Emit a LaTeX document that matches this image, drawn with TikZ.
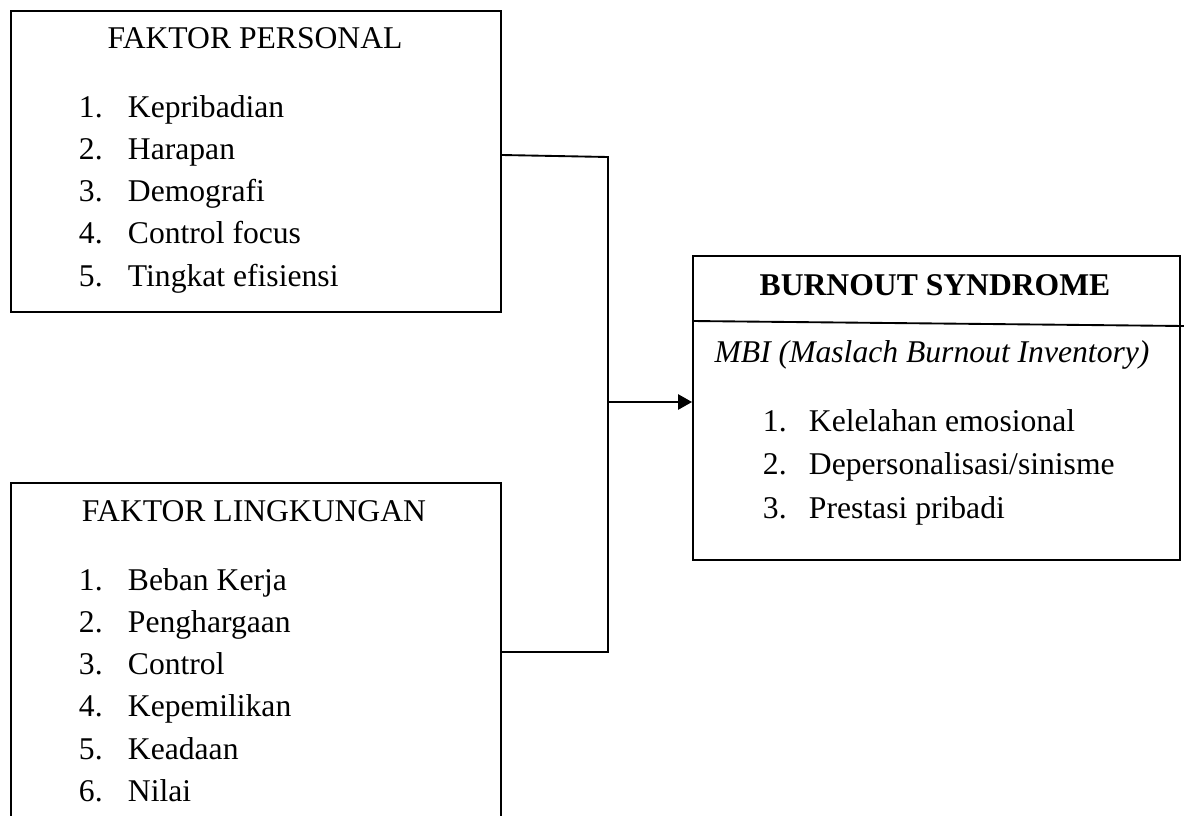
\documentclass[tikz,border=0pt]{standalone}
\usepackage{fontspec}
\setmainfont{Liberation Serif}
\usetikzlibrary{arrows.meta}
\begin{document}
\begin{tikzpicture}[x=0.015cm, y=-0.015cm, line width=0.8pt,
                    box/.style={draw, anchor=north west, inner sep=0},
                    label/.style={inner sep=0, font=\fontsize{13.5}{16}\selectfont},
                    item/.style={label, anchor=base west}]
                    \useasboundingbox (0,0) rectangle (1184,815);
                    \node[box, minimum width=7.35cm, minimum height=4.515cm] (personal) at (10,10) {};
                    \node[box, minimum width=7.35cm, minimum height=5.4cm] (lingkungan) at (10,482) {};
                    \node[box, minimum width=7.305cm, minimum height=4.56cm] (burnout) at (692,255) {};
                    \node[label, anchor=base] (personaltitle) at (255,49) {FAKTOR PERSONAL};
                    \foreach \t [count=\i] in {Kepribadian, Harapan, Demografi, Control focus, Tingkat efisiensi}
                        \node[item] (personal\i) at (78,{117+42.3*(\i-1)}) {\makebox[0.735cm][l]{\i.}\t};
                    \node[label, anchor=base] (lingkungantitle) at (254,521.7) {FAKTOR LINGKUNGAN};
                    \foreach \t [count=\i] in {Beban Kerja, Penghargaan, Control, Kepemilikan, Keadaan, Nilai}
                        \node[item] (lingkungan\i) at (78,{590+42.3*(\i-1)}) {\makebox[0.735cm][l]{\i.}\t};
                    \node[label, anchor=base, font=\fontsize{13.5}{16}\selectfont\bfseries] (burnouttitle) at (935,295) {BURNOUT SYNDROME};
                    \node[label, anchor=base, font=\fontsize{13.5}{16}\selectfont\itshape] (mbi) at (932,362.7) {MBI (Maslach Burnout Inventory)};
                    \foreach \t [count=\i] in {Kelelahan emosional, Depersonalisasi/sinisme, Prestasi pribadi}
                        \node[item] (burnout\i) at (762,{431.7+43.2*(\i-1)}) {\makebox[0.69cm][l]{\i.}\t};
                    \coordinate (divleft) at (692,321);
                    \coordinate (divright) at (1184,326);
                    \draw (burnout.west |- divleft) -- (divright);
                    \coordinate (out) at (500,155);
                    \coordinate (top) at (608,157);
                    \coordinate (bottom) at (608,652);
                    \coordinate (mid) at (608,402);
                    \draw (personal.east |- out) -- (top) -- (bottom) -- (lingkungan.east |- bottom);
                    \draw[-{Triangle[length=0.21cm, width=0.23cm]}] (mid) -- (burnout.west |- mid);
                \end{tikzpicture}
\end{document}
